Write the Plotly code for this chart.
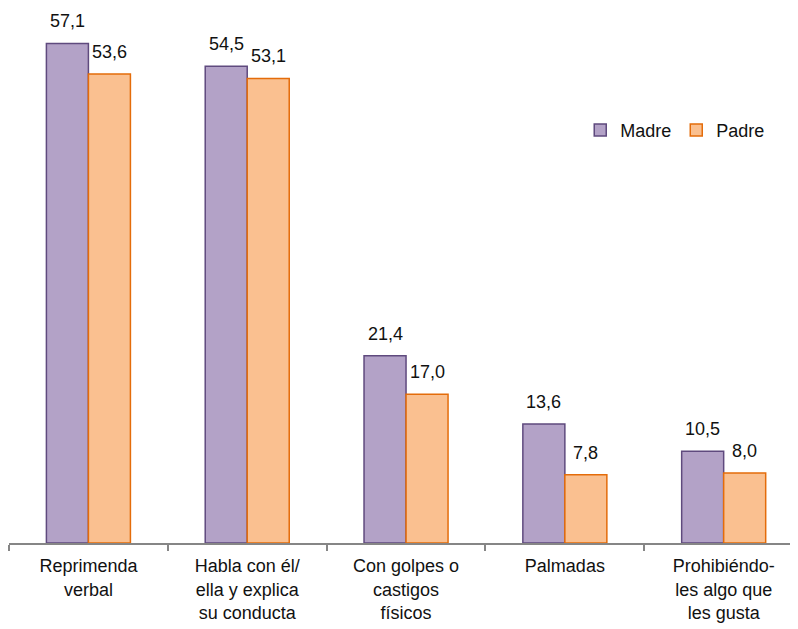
import plotly.graph_objects as go

categories = [
    "Reprimenda<br>verbal",
    "Habla con él/<br>ella y explica<br>su conducta",
    "Con golpes o<br>castigos<br>físicos",
    "Palmadas",
    "Prohibiéndo-<br>les algo que<br>les gusta",
]
madre = [57.1, 54.5, 21.4, 13.6, 10.5]
padre = [53.6, 53.1, 17.0, 7.8, 8.0]

FONT = "Liberation Sans, Arial, sans-serif"

fig = go.Figure()

fig.add_trace(go.Bar(
    x=categories, y=madre, name="Madre",
    marker=dict(color="#B3A2C7", line=dict(color="#5F4A7E", width=1.5)),
))
fig.add_trace(go.Bar(
    x=categories, y=padre, name="Padre",
    marker=dict(color="#FAC090", line=dict(color="#E46C0A", width=1.5)),
))

# value labels above each bar, a bit higher than plotly's default "outside"
for vals, shift in ((madre, -21), (padre, 21)):
    for cat, v in zip(categories, vals):
        fig.add_annotation(
            x=cat, y=v, text=f"{v:.1f}".replace(".", ","),
            xshift=shift, yshift=10, yanchor="bottom", showarrow=False,
            font=dict(family=FONT, size=18, color="#111111"),
        )

# the page body has an 8px margin, so the figure is trimmed by that much
fig.update_layout(
    width=790, height=621,
    margin=dict(l=1, r=0, t=10, b=86),
    plot_bgcolor="white", paper_bgcolor="white",
    barmode="group", bargap=0.471, bargroupgap=0,
    font=dict(family=FONT, size=18, color="#111111"),
    legend=dict(
        orientation="h", x=0.724, y=0.786, xanchor="left", yanchor="middle",
        font=dict(size=18), itemwidth=30, bgcolor="rgba(0,0,0,0)",
    ),
)

fig.update_xaxes(
    range=[-0.5, 4.468],
    showline=True, linecolor="#868686", linewidth=1.5,
    ticks="outside", tickson="boundaries", ticklen=6, tickcolor="#868686", tickwidth=1.5,
    showgrid=False, tickfont=dict(size=18), ticklabelstandoff=6,
)
fig.update_yaxes(range=[0, 60], visible=False, showgrid=False)

fig.write_html("out.html")
